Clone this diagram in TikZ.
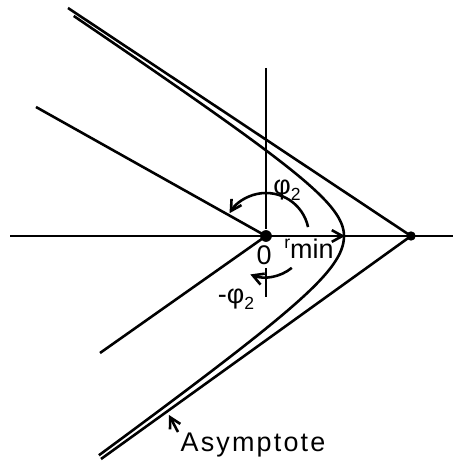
\documentclass[tikz,border=0pt]{standalone}
\usepackage{fontspec}
\setmainfont{Liberation Sans}
\usetikzlibrary{arrows.meta}
\newcommand{\phitwo}{φ\raisebox{-5pt}{\fontsize{15}{16}\selectfont 2}}
\begin{document}
\begin{tikzpicture}[x=0.03cm,y=0.03cm,
  line width=2.2pt,
  dot/.style={circle,fill=black,inner sep=0pt,minimum size=#1},
  lbl/.style={inner sep=0pt,font=\fontsize{23}{25}\selectfont},
  tip/.style={-{Straight Barb[length=9pt,width=10pt,line width=2.2pt]}}
]
\useasboundingbox (0,0) rectangle (454,462);
% axes
\coordinate (Xl) at (10,226);
\coordinate (Xr) at (453,226);
\coordinate (Yt) at (266,394);
\coordinate (Yb1) at (266,194);
\coordinate (Yb2) at (266,165);
\node[dot=10pt] (O) at (266,226) {};
\node[dot=8pt] (C) at (411,226) {};
\coordinate (V) at (345,226);
\draw (Xl) -- (Xr);
\draw (Yt) -- (O);
\draw (Yb1) -- (Yb2);
% asymptotes
\coordinate (Au) at (68,454);
\coordinate (Al) at (101,3);
\draw (C.center) -- (Au);
\draw (C.center) -- (Al);
% direction lines from origin
\coordinate (Lu) at (36,355);
\coordinate (Ll) at (100,109);
\draw (O.center) -- (Lu);
\draw (O.center) -- (Ll);
% hyperbola branch
\draw plot[domain=-2.22:0,samples=60,smooth] ({411-67*cosh(\x)},{226+48.2*sinh(\x)})
   -- plot[domain=0:2.30,samples=60,smooth] ({411-67*cosh(\x)},{226+44.6*sinh(\x)});
% r_min
\draw[tip] (O.center) -- (V);
% phi_2 arcs
\draw[tip] ([shift={(12:43)}]O.center) arc[start angle=12,end angle=148,radius=43];
\draw[tip] ([shift={(-51:41)}]O.center) arc[start angle=-51,end angle=-111,radius=42];
% labels
\node[lbl] (phi) at (287,272) {\phitwo};
\node[lbl] (mphi) at (236,163) {-\phitwo};
\node[lbl] (zero) at (264,207) {0};
\node[lbl,anchor=base west] (rmin) at (283,203) {\raisebox{9pt}{\fontsize{15}{16}\selectfont r}min};
\node[inner sep=0pt,font=\fontsize{23}{26}\selectfont\addfontfeature{LetterSpace=8}] (asy) at (253,17) {Asymptote};
\coordinate (asyT) at (169,47);
\coordinate (asyS) at (178,30);
\draw[tip] (asyS) -- (asyT);
\end{tikzpicture}
\end{document}
